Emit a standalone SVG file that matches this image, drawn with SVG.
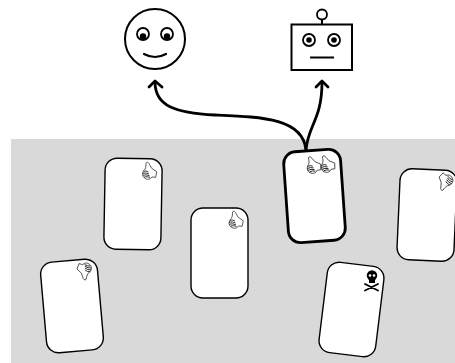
<svg xmlns="http://www.w3.org/2000/svg" width="455" height="363" viewBox="0 0 455 363">
<style>
.card{fill:#fff;stroke:#000;stroke-width:1.4}
.sel{stroke-width:2.8}
.ln{fill:none;stroke:#000;stroke-width:2.2;stroke-linecap:round;stroke-linejoin:round}
.th{fill:#fff;stroke:#333;stroke-width:.8;stroke-linejoin:round}
.st{fill:none;stroke:#222;stroke-width:.9}
.conn{fill:none;stroke:#000;stroke-width:2.8;stroke-linecap:round;stroke-linejoin:round}
</style>
<defs>
<g id="thumb">
<path class="th" d="M-3,-8C-2,-9.500,0,-8.500,.5,-6.500L2.700,-2.700L7.700,.7L6.700,6.300L3,6C1,8.500,-1,8.500,-2.500,8C-5.500,7,-7,4.500,-6.300,2C-5.800,0,-5,-1,-4,-1.700C-3,-4,-3,-6,-3,-8Z"/>
<path class="st" d="M-5.500,.3Q-3,-.6,-.5,1M-6.300,2.300Q-3,1.300,0,3M-6,4.200Q-3,3.200,.5,4.800M-4.800,6Q-2,5.200,1,6.400"/>
</g>
</defs>
<rect id="table" x="11" y="139" width="444" height="224" fill="#d9d9d9"/>
<g id="connectors">
<path class="conn" d="M306,150C303,118,262,117,215,115C175,113,155,106,155,82"/>
<path class="conn" d="M306,150C308,125,322,120,322,82"/>
<path class="conn" d="M149,87L155,81L162,87"/>
<path class="conn" d="M316,87L322,81L328,87"/>
</g>
<g id="human">
<circle cx="155" cy="39" r="30" fill="#fff" stroke="#000" stroke-width="2"/>
<circle cx="143" cy="34" r="6" fill="#fff" stroke="#000" stroke-width="1.800"/>
<circle cx="167" cy="34" r="6" fill="#fff" stroke="#000" stroke-width="1.800"/>
<circle cx="143" cy="36.500" r="3.200"/>
<circle cx="167" cy="36.500" r="3.200"/>
<path class="ln" d="M144,54Q155,60,166,54"/>
</g>
<g id="robot">
<line x1="322" y1="19" x2="322" y2="24" stroke="#000" stroke-width="2"/>
<circle cx="322" cy="14.500" r="5" fill="#fff" stroke="#000" stroke-width="1.800"/>
<rect x="291.500" y="24.500" width="60.500" height="45.500" fill="#fff" stroke="#000" stroke-width="2"/>
<circle cx="309" cy="40" r="6" fill="#fff" stroke="#000" stroke-width="1.800"/>
<circle cx="334" cy="40" r="6" fill="#fff" stroke="#000" stroke-width="1.800"/>
<circle cx="309" cy="40" r="2.800"/>
<circle cx="334" cy="40" r="2.800"/>
<line x1="310" y1="57.500" x2="334" y2="57.500" stroke="#000" stroke-width="2"/>
</g>
<g id="card-a">
<rect class="card" x="-28.500" y="-45.500" width="57" height="91" rx="12" transform="translate(133,204) rotate(1)"/>
<use href="#thumb" transform="translate(149,171)"/>
</g>
<g id="card-b">
<rect class="card" x="-28.500" y="-45" width="57" height="90" rx="12" transform="translate(219.500,253)"/>
<use href="#thumb" transform="translate(235.500,220)"/>
</g>
<g id="card-selected">
<rect class="card sel" x="-28.500" y="-45.500" width="57" height="91" rx="12" transform="translate(314.500,196) rotate(-4)"/>
<use href="#thumb" transform="translate(313,165) rotate(-12)"/>
<use href="#thumb" transform="translate(327,164) rotate(-12)"/>
</g>
<g id="card-skull">
<rect class="card" x="-28.500" y="-45.500" width="57" height="91" rx="12" transform="translate(351.500,309.500) rotate(7)"/>
<circle cx="372" cy="275.500" r="5.200"/>
<rect x="369" y="278" width="6" height="5"/>
<circle cx="370" cy="275.500" r="1.300" fill="#fff"/>
<circle cx="374" cy="275.500" r="1.300" fill="#fff"/>
<path d="M365,284L378,290.500M365,290.500L378,284" stroke="#000" stroke-width="1.800" stroke-linecap="round" fill="none"/>
</g>
<g id="card-right">
<rect class="card" x="-28.500" y="-45.500" width="57" height="91" rx="12" transform="translate(427,215) rotate(2.500)"/>
<use href="#thumb" transform="translate(445,182) rotate(215)"/>
</g>
<g id="card-left">
<rect class="card" x="-28.500" y="-45.500" width="57" height="91" rx="12" transform="translate(72,306) rotate(-5)"/>
<use href="#thumb" transform="translate(84.500,271) rotate(190)"/>
</g>
</svg>
